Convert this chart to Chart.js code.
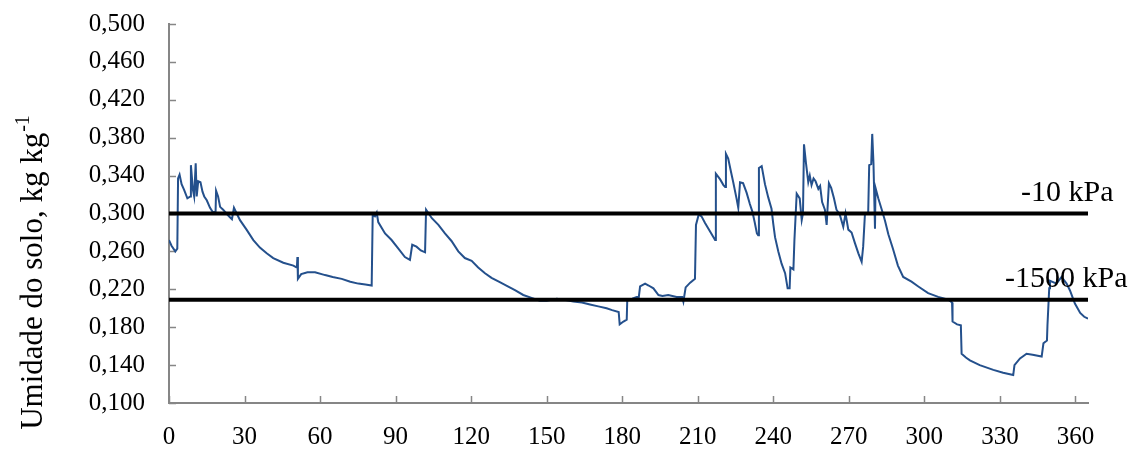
<!DOCTYPE html>
<html>
<head>
<meta charset="utf-8">
<script src="https://cdn.jsdelivr.net/npm/chart.js@4/dist/chart.umd.min.js"></script>
<style>
  html, body { margin: 0; padding: 0; background: #fff; }
</style>
</head>
<body>
<canvas id="soilChart" width="1148" height="451"></canvas>
<script>
// Soil moisture over the year (day, kg/kg)
const days = [
  0, 1, 2.5, 3.3, 3.6, 4.2, 5, 6, 7.3, 8.5, 8.7, 9.5, 10, 10.6, 11, 11.6, 12.5, 13.3, 14, 15,
  16.3, 17.5, 18.5, 18.7, 19.5, 20.3, 21.5, 22.8, 24.2, 25, 25.8, 26.7, 28.2, 30.8, 33.5, 36.1, 38.8, 41.4, 45.4, 49.4,
  50.8, 51, 51.2, 52.5, 55, 58, 62, 65, 68.6, 72, 75.2, 78, 80.5, 80.9, 81.8, 82.5, 83.1, 85.8, 88.4, 91.1,
  93.7, 95.7, 96.6, 98.3, 100, 101.7, 102.1, 104.4, 107, 109.6, 112.2, 114.9, 117.5, 120.2, 122.8, 125.5, 128.1, 131, 134, 137.4,
  140.7, 144, 147.3, 150, 154, 157, 160.6, 164, 167.2, 170.5, 173.8, 176, 178.6, 179, 180.5, 181.8, 182, 184, 185.8, 186.6,
  187.1, 189.1, 190.5, 192.4, 194.4, 196, 198.3, 201.6, 203.8, 204.3, 205.2, 207, 208.9, 209.3, 210.4, 211.5, 212.9, 214.9, 216.9, 217.2,
  218.9, 220.2, 220.9, 221.2, 222.1, 223.2, 224.1, 225.4, 226.1, 226.8, 228, 229.4, 230.7, 231.7, 232.6, 233.5, 234, 234.3, 235.4, 236.7,
  238, 239.3, 240, 240.7, 242, 243.3, 244.7, 245.7, 246.5, 246.8, 248, 248.4, 249.3, 250.5, 251.3, 251.8, 252.2, 253, 253.9, 254.5,
  255.2, 256, 256.8, 257.9, 258.6, 259.4, 260.5, 261.2, 262.1, 263, 264.1, 265.1, 266.4, 267.8, 268.7, 269.8, 271.1, 272.4, 273.8, 275.1,
  275.7, 276.4, 277.7, 278.1, 278.9, 279.3, 279.8, 280.4, 280.6, 281.7, 283.1, 284.4, 285.7, 287.5, 289.5, 291.6, 294.9, 297.6, 301.5, 305.5,
  309.5, 311, 311.2, 313, 314.5, 314.8, 316.5, 318.1, 322, 327.4, 331.3, 335.3, 335.8, 338, 340.6, 343, 346.6, 347.3, 348.7, 348.9,
  349.6, 349.9, 352.5, 354.5, 356.5, 357.8, 359.8, 361.9, 363.5, 365
];
const moisture = [
  0.272, 0.266, 0.260, 0.263, 0.337, 0.341, 0.331, 0.325, 0.316, 0.318, 0.351, 0.325, 0.318, 0.353, 0.318, 0.334, 0.333, 0.323, 0.318, 0.314,
  0.306, 0.301, 0.302, 0.324, 0.318, 0.307, 0.304, 0.300, 0.296, 0.294, 0.306, 0.301, 0.293, 0.283, 0.272, 0.264, 0.258, 0.253, 0.248, 0.245,
  0.243, 0.254, 0.231, 0.236, 0.238, 0.238, 0.235, 0.233, 0.231, 0.228, 0.226, 0.225, 0.224, 0.298, 0.297, 0.301, 0.291, 0.279, 0.272, 0.263,
  0.254, 0.251, 0.267, 0.265, 0.261, 0.259, 0.304, 0.295, 0.288, 0.279, 0.271, 0.260, 0.253, 0.250, 0.243, 0.237, 0.232, 0.228, 0.224, 0.219,
  0.214, 0.211, 0.208, 0.208, 0.210, 0.209, 0.207, 0.206, 0.204, 0.202, 0.200, 0.198, 0.196, 0.183, 0.186, 0.188, 0.208, 0.210, 0.212, 0.212,
  0.223, 0.226, 0.224, 0.221, 0.214, 0.213, 0.214, 0.212, 0.212, 0.207, 0.222, 0.227, 0.231, 0.288, 0.299, 0.297, 0.290, 0.281, 0.272, 0.342,
  0.336, 0.330, 0.328, 0.363, 0.358, 0.344, 0.333, 0.316, 0.306, 0.333, 0.332, 0.322, 0.310, 0.302, 0.291, 0.279, 0.277, 0.348, 0.350, 0.331,
  0.317, 0.305, 0.289, 0.275, 0.260, 0.247, 0.237, 0.221, 0.221, 0.243, 0.241, 0.272, 0.321, 0.316, 0.293, 0.300, 0.373, 0.353, 0.333, 0.340,
  0.330, 0.337, 0.334, 0.326, 0.329, 0.312, 0.304, 0.288, 0.332, 0.327, 0.316, 0.304, 0.299, 0.286, 0.300, 0.283, 0.280, 0.269, 0.258, 0.249,
  0.265, 0.299, 0.301, 0.351, 0.352, 0.384, 0.353, 0.284, 0.327, 0.316, 0.304, 0.292, 0.278, 0.263, 0.245, 0.233, 0.228, 0.223, 0.216, 0.212,
  0.209, 0.206, 0.186, 0.183, 0.182, 0.152, 0.148, 0.145, 0.140, 0.135, 0.132, 0.1295, 0.140, 0.147, 0.152, 0.151, 0.149, 0.163, 0.166, 0.182,
  0.221, 0.229, 0.226, 0.233, 0.226, 0.219, 0.205, 0.195, 0.191, 0.189
];

// reference lines (matric potential limits)
const limitNames = ['-10 kPa', '-1500 kPa'];
const limitValues = [0.300, 0.209];
const dayRange = [0, 365];

const xTicks = [0, 30, 60, 90, 120, 150, 180, 210, 240, 270, 300, 330, 360];
const yTicks = [0.100, 0.140, 0.180, 0.220, 0.260, 0.300, 0.340, 0.380, 0.420, 0.460, 0.500];

const serif = "'Liberation Serif', 'Times New Roman', serif";

// small tick marks pointing into the plot, like the original
const innerTicks = {
  id: 'innerTicks',
  beforeDatasetsDraw(chart) {
    const { ctx, chartArea, scales } = chart;
    ctx.save();
    ctx.strokeStyle = '#868686';
    ctx.lineWidth = 1.5;
    ctx.beginPath();
    yTicks.forEach(v => {
      const y = Math.round(scales.y.getPixelForValue(v)) + 0.5;
      ctx.moveTo(chartArea.left, y);
      ctx.lineTo(chartArea.left + 7, y);
    });
    xTicks.forEach(v => {
      const x = Math.round(scales.x.getPixelForValue(v)) + 0.5;
      ctx.moveTo(x, chartArea.bottom);
      ctx.lineTo(x, chartArea.bottom - 7);
    });
    ctx.stroke();
    ctx.restore();
  }
};

// y axis title with superscript
const yTitle = {
  id: 'yTitle',
  afterDraw(chart) {
    const ctx = chart.ctx;
    const main = 'Umidade do solo, kg kg';
    const sup = '-1';
    ctx.save();
    ctx.fillStyle = '#000';
    ctx.font = '31px ' + serif;
    const wMain = ctx.measureText(main).width;
    ctx.font = '20px ' + serif;
    const wSup = ctx.measureText(sup).width;
    const total = wMain + wSup;
    ctx.translate(42, 273);
    ctx.rotate(-Math.PI / 2);
    ctx.textBaseline = 'alphabetic';
    ctx.textAlign = 'left';
    ctx.font = '31px ' + serif;
    ctx.fillText(main, -total / 2, 0);
    ctx.font = '20px ' + serif;
    ctx.fillText(sup, -total / 2 + wMain + 1, -13);
    ctx.restore();
  }
};

// labels over the reference lines
const limitLabels = {
  id: 'limitLabels',
  afterDraw(chart) {
    const { ctx, chartArea, scales } = chart;
    const offsets = [67, 83];
    ctx.save();
    ctx.fillStyle = '#000';
    ctx.font = '30px ' + serif;
    ctx.textBaseline = 'alphabetic';
    limitNames.forEach((name, i) => {
      const y = scales.y.getPixelForValue(limitValues[i]);
      ctx.fillText(name, chartArea.right - offsets[i], y - 13);
    });
    ctx.restore();
  }
};

const datasets = [{
  label: 'Umidade',
  data: days.map((d, i) => ({ x: d, y: moisture[i] })),
  borderColor: '#24508c',
  borderWidth: 2,
  pointRadius: 0,
  tension: 0,
  fill: false,
  order: 1
}];
limitValues.forEach((v, i) => {
  datasets.push({
    label: limitNames[i],
    data: dayRange.map(d => ({ x: d, y: v })),
    borderColor: '#000',
    borderWidth: 4,
    pointRadius: 0,
    fill: false,
    order: 0
  });
});

const ctx = document.getElementById('soilChart').getContext('2d');
new Chart(ctx, {
  type: 'line',
  data: { datasets: datasets },
  options: {
    responsive: false,
    animation: false,
    devicePixelRatio: 1,
    layout: { padding: { top: 24, right: 60, left: 0, bottom: 0 } },
    plugins: {
      legend: { display: false },
      tooltip: { enabled: false }
    },
    scales: {
      x: {
        type: 'linear',
        min: dayRange[0],
        max: dayRange[1],
        grid: { display: false, drawTicks: false },
        border: { display: true, color: '#868686', width: 2 },
        afterBuildTicks: axis => { axis.ticks = xTicks.map(v => ({ value: v })); },
        afterFit: scale => {
          scale.height = 48;
          scale.paddingLeft = 0;
          scale.paddingRight = 0;
        },
        ticks: {
          autoSkip: false,
          maxRotation: 0,
          padding: 19,
          color: '#000',
          font: { family: serif, size: 25 },
          callback: v => String(v)
        }
      },
      y: {
        type: 'linear',
        min: 0.1,
        max: 0.5,
        grid: { display: false, drawTicks: false },
        border: { display: true, color: '#868686', width: 2 },
        afterBuildTicks: axis => { axis.ticks = yTicks.map(v => ({ value: v })); },
        afterFit: scale => {
          scale.width = 169;
          scale.paddingTop = 0;
          scale.paddingBottom = 0;
        },
        ticks: {
          padding: 24,
          color: '#000',
          font: { family: serif, size: 25 },
          callback: v => Number(v).toFixed(3).replace('.', ',')
        }
      }
    }
  },
  plugins: [innerTicks, yTitle, limitLabels]
});
</script>
</body>
</html>
